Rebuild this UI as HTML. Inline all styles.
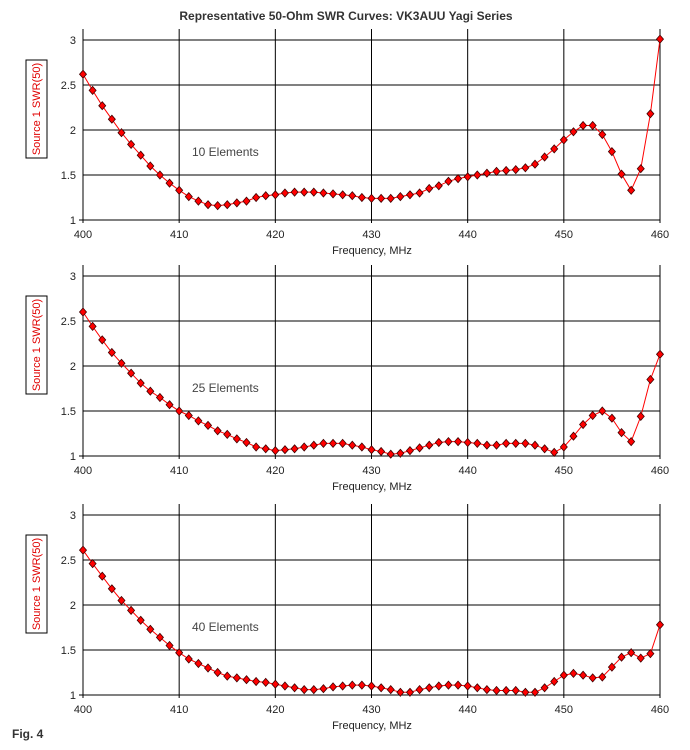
<!DOCTYPE html>
<html><head><meta charset="utf-8"><style>
html,body{margin:0;padding:0;background:#fff;}
svg{display:block;font-family:"Liberation Sans",Arial,sans-serif;}
</style></head><body>
<svg id="s" width="690" height="750" viewBox="0 0 690 750">
<text x="346" y="20" text-anchor="middle" font-size="12" font-weight="bold" fill="#333">Representative 50-Ohm SWR Curves: VK3AUU Yagi Series</text>
<text x="12" y="738" font-size="12" font-weight="bold" fill="#333">Fig. 4</text>
</svg>
<script>
const freqs = [];
for (let f = 400; f <= 460; f++) freqs.push(f);
const xTicks = [400,410,420,430,440,450,460];
const yTicks = [1,1.5,2,2.5,3];
const yTickLabels = ["1","1.5","2","2.5","3"];
const labels = ["10 Elements","25 Elements","40 Elements"];
const swr10 = [2.62,2.44,2.27,2.12,1.97,1.84,1.72,1.6,1.5,1.41,1.33,1.26,1.21,1.17,1.16,1.17,1.19,1.21,1.25,1.27,1.28,1.3,1.31,1.31,1.31,1.3,1.29,1.28,1.27,1.25,1.24,1.24,1.24,1.26,1.28,1.3,1.35,1.38,1.43,1.46,1.48,1.5,1.52,1.54,1.55,1.56,1.58,1.62,1.7,1.79,1.89,1.98,2.05,2.05,1.95,1.76,1.51,1.33,1.57,2.18,3.01];
const swr25 = [2.6,2.44,2.29,2.15,2.03,1.92,1.81,1.72,1.65,1.57,1.5,1.45,1.39,1.34,1.28,1.24,1.19,1.15,1.1,1.08,1.06,1.07,1.08,1.1,1.12,1.14,1.14,1.14,1.12,1.1,1.07,1.05,1.02,1.03,1.06,1.09,1.12,1.15,1.16,1.16,1.15,1.14,1.12,1.12,1.14,1.14,1.14,1.12,1.08,1.04,1.1,1.22,1.35,1.45,1.5,1.42,1.26,1.16,1.44,1.85,2.13];
const swr40 = [2.61,2.46,2.32,2.18,2.05,1.94,1.83,1.73,1.64,1.55,1.47,1.4,1.35,1.3,1.25,1.21,1.19,1.17,1.15,1.14,1.12,1.1,1.08,1.06,1.06,1.07,1.09,1.1,1.11,1.11,1.1,1.08,1.06,1.03,1.03,1.06,1.08,1.1,1.11,1.11,1.1,1.08,1.06,1.05,1.05,1.05,1.03,1.03,1.08,1.15,1.22,1.24,1.22,1.19,1.2,1.31,1.42,1.47,1.41,1.46,1.78];
const series = [swr10, swr25, swr40];
const baseY1 = [220, 456, 695];

const NS = "http://www.w3.org/2000/svg";
const svg = document.getElementById('s');
function mk(tag, attrs, parent){
  const e = document.createElementNS(NS, tag);
  for (const k in attrs) e.setAttribute(k, attrs[k]);
  (parent||svg).appendChild(e);
  return e;
}
const X0 = 83, X1 = 660;
const xs = f => X0 + (f-400)/60*(X1-X0);

series.forEach((data, i) => {
  const y1 = baseY1[i];
  const ys = v => y1 - (v-1)*90;
  const top = ys(3) - 11;
  const g = mk('g', {});
  
  
  // grid
  yTicks.forEach((t, j) => {
    if (j > 0) {
      const l = mk('line', {x1:X0, x2:X1, y1:ys(t), y2:ys(t), stroke:'#000', 'stroke-width':1}, g);
      
      
    }
    const tx = mk('text', {x:76, y:ys(t)+4, 'text-anchor':'end', 'font-size':11, fill:'#222'}, g);
    tx.textContent = yTickLabels[j];
    
    
  });
  xTicks.forEach(t => {
    const l = mk('line', {x1:xs(t), x2:xs(t), y1:top, y2:y1+3, stroke:'#000', 'stroke-width':1}, g);
    
    
    const tx = mk('text', {x:xs(t), y:y1+18, 'text-anchor':'middle', 'font-size':11, fill:'#222'}, g);
    tx.textContent = t;
    
    
  });
  const ax = mk('line', {x1:X0-4, x2:X1, y1:y1, y2:y1, stroke:'#000', 'stroke-width':1}, g);
  
  
  const xt = mk('text', {x:372, y:y1+34, 'text-anchor':'middle', 'font-size':11, fill:'#222'}, g);
  xt.textContent = 'Frequency, MHz';
  
  
  // y title box
  const cy = y1 - 111;
  const bx = mk('rect', {x:26, y:cy-49, width:21, height:98, fill:'#fff', stroke:'#000', 'stroke-width':1}, g);
  
  
  const yt = mk('text', {x:0, y:0, 'text-anchor':'middle', 'font-size':11, fill:'#e00000', transform:'translate(40,'+cy+') rotate(-90)'}, g);
  yt.textContent = 'Source 1 SWR(50)';
  
  
  const lb = mk('text', {x:192, y:y1-64, 'font-size':12, fill:'#444'}, g);
  lb.textContent = labels[i];
  
  
  // line
  const pts = data.map((v,k) => xs(freqs[k]).toFixed(1)+','+ys(v).toFixed(1)).join(' ');
  const pl = mk('polyline', {points:pts, fill:'none', stroke:'#ff0000', 'stroke-width':1}, g);
  
  
  data.forEach((v,k) => {
    const x = xs(freqs[k]), y = ys(v);
    const d = mk('polygon', {points:`${x},${y-4} ${x+3.5},${y} ${x},${y+4} ${x-3.5},${y}`, fill:'#ff0000', stroke:'#400000', 'stroke-width':0.8}, g);
    
    
  });
});
</script>
</body></html>
